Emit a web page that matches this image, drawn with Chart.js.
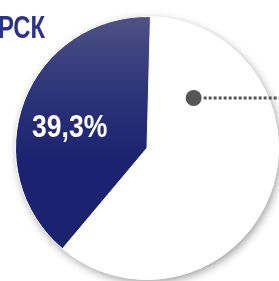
<!DOCTYPE html>
<html>
<head>
<meta charset="utf-8">
<script src="https://cdn.jsdelivr.net/npm/chart.js@4.4.0/dist/chart.umd.min.js"></script>
<style>
  html, body { margin: 0; padding: 0; background: #fff; overflow: hidden; }
  #wrap { position: relative; width: 279px; height: 281px; }
</style>
</head>
<body>
<div id="wrap"><canvas id="myChart" width="279" height="281"></canvas></div>
<script>
// data
let labels = ['Прочие', 'РСК'];
let shares = [60.7, 39.3];
let shareLabels = ['60,7%', '39,3%'];
let titleText = 'РСК';

var ctx = document.getElementById('myChart').getContext('2d');

// navy gradient for the РСК slice
var navy = ctx.createLinearGradient(0, 16, 0, 160);
navy.addColorStop(0, '#4e5285');
navy.addColorStop(0.5, '#2e3579');
navy.addColorStop(1, '#1b2370');

// condensed text: regular bold font squeezed horizontally
function narrowText(c, text, x, y, size, squeeze, color, align) {
  c.save();
  c.font = 'bold ' + size + 'px "Liberation Sans", Arial, sans-serif';
  c.fillStyle = color;
  c.textBaseline = 'alphabetic';
  c.textAlign = align;
  c.translate(x, y);
  c.scale(squeeze, 1);
  c.fillText(text, 0, 0);
  c.restore();
}

// soft shadow under the whole pie
const pieShadow = {
  id: 'pieShadow',
  beforeDatasetsDraw(chart) {
    const arc = chart.getDatasetMeta(0).data[0];
    if (!arc) return;
    const c = chart.ctx;
    c.save();
    c.shadowColor = 'rgba(0,0,0,0.38)';
    c.shadowBlur = 9;
    c.shadowOffsetX = 2;
    c.shadowOffsetY = 3;
    c.beginPath();
    c.arc(arc.x, arc.y, arc.outerRadius, 0, Math.PI * 2);
    c.fillStyle = '#fff';
    c.fill();
    c.restore();
  }
};

// title text, slice value and leader marker
const pieText = {
  id: 'pieText',
  afterDatasetsDraw(chart) {
    const c = chart.ctx;
    const meta = chart.getDatasetMeta(0);
    narrowText(c, titleText, -2, 38, 31, 0.77, '#2a338a', 'left');

    // value label inside the navy slice
    const dark = meta.data[1];
    const mid = (dark.startAngle + dark.endAngle) / 2;
    const r = dark.outerRadius * 0.6;
    narrowText(c, shareLabels[1], dark.x + Math.cos(mid) * r - 3.5, dark.y + Math.sin(mid) * r + 17,
      32, 0.83, '#ffffff', 'center');

    // leader for the white slice
    const white = meta.data[0];
    const a = white.startAngle + 0.19 * (white.endAngle - white.startAngle);
    const rr = white.outerRadius * 0.52;
    const px = white.x + Math.cos(a) * rr;
    const py = white.y + Math.sin(a) * rr;
    c.save();
    c.fillStyle = '#555555';
    c.beginPath();
    c.arc(px, py, 8, 0, Math.PI * 2);
    c.fill();
    c.strokeStyle = '#555555';
    c.lineWidth = 3;
    c.setLineDash([3, 2]);
    c.beginPath();
    c.moveTo(px + 10, py);
    c.lineTo(chart.width + 5, py);
    c.stroke();
    c.restore();
  }
};

var chart = new Chart(ctx, {
    type: 'pie',
    data: {
        labels: labels,
        datasets: [{
            data: shares,
            backgroundColor: ['#ffffff', navy],
            borderColor: '#ffffff',
            borderWidth: 1
        }]
    },
    options: {
        responsive: false,
        animation: false,
        rotation: 1.5,
        layout: { padding: { left: 15, top: 16, right: 0, bottom: 1 } },
        plugins: {
            legend: { display: false },
            tooltip: { enabled: false }
        }
    },
    plugins: [pieShadow, pieText]
});
</script>
</body>
</html>
